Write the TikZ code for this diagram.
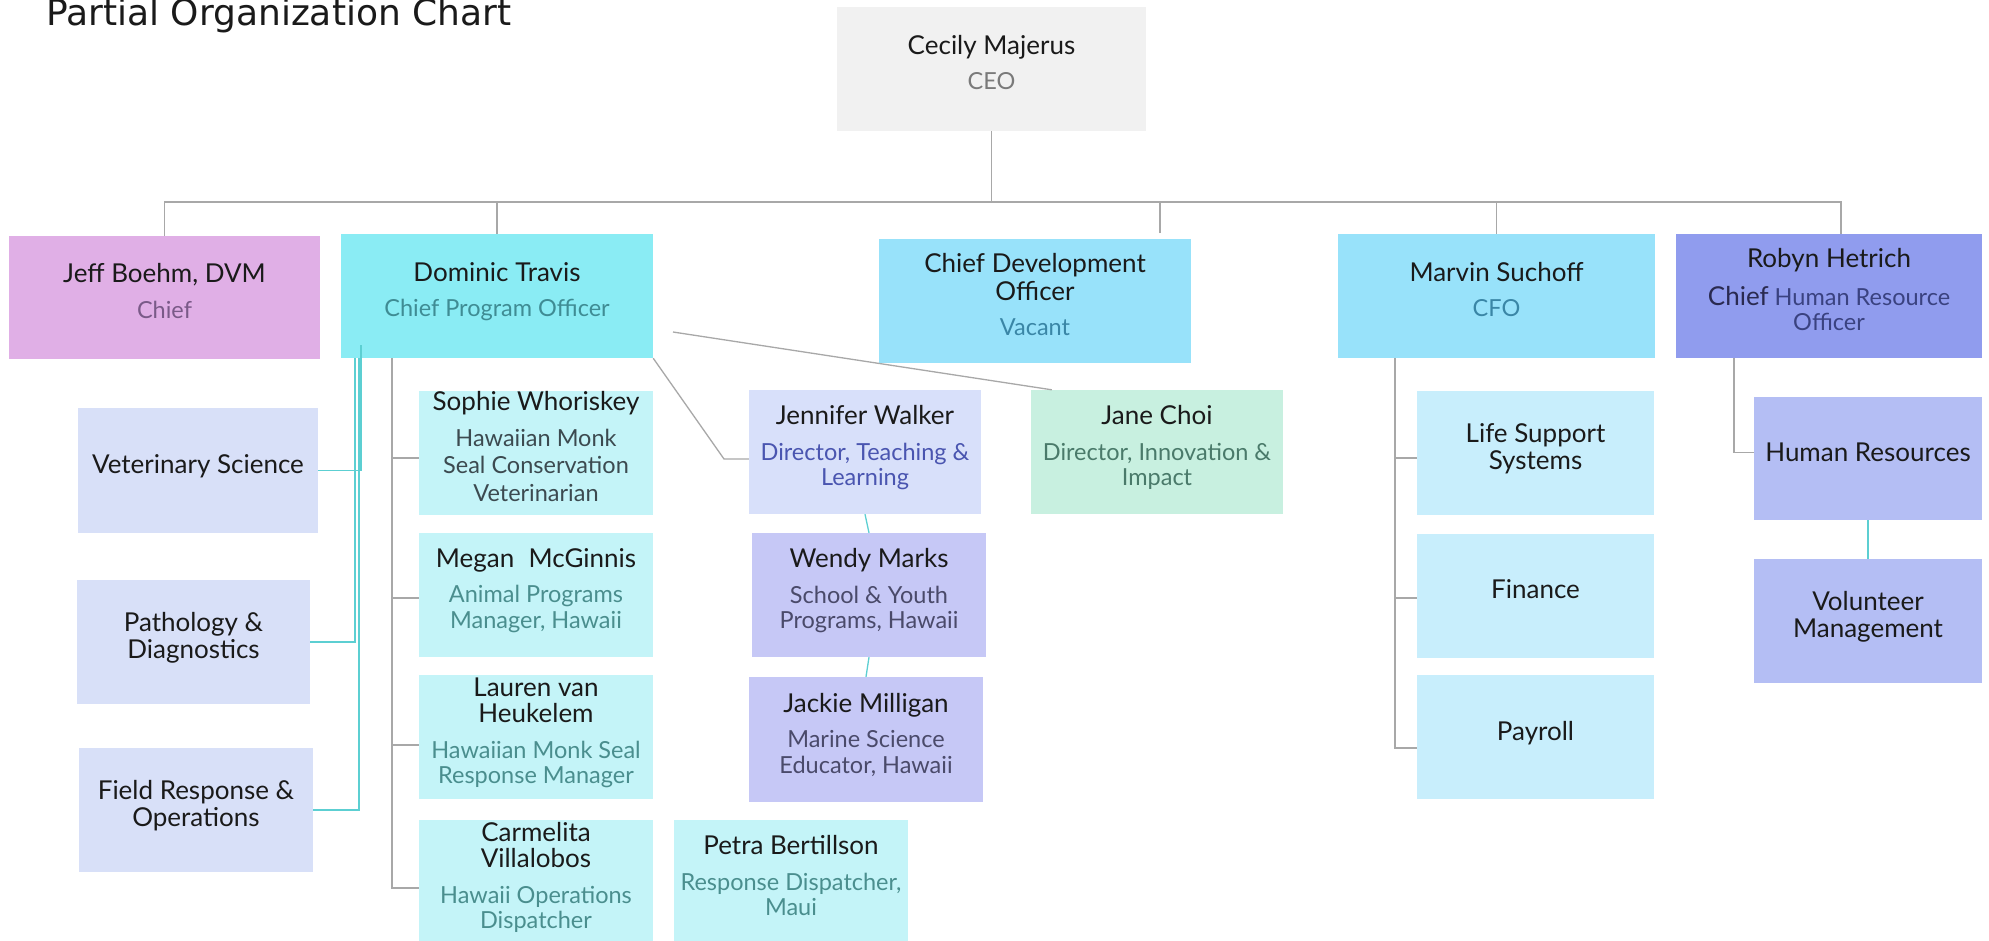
\documentclass[tikz,border=0pt]{standalone}
\usepackage{fontspec}
\setmainfont{Lato}
\newfontfamily\titlefont{DejaVu Sans}
\definecolor{nmc}{HTML}{1A1A1A}
\definecolor{lineg}{HTML}{A8A8A8}
\definecolor{linet}{HTML}{5CCFD2}
\definecolor{cceo}{HTML}{F1F1F1}
\definecolor{cjeff}{HTML}{E0AFE6}
\definecolor{cdom}{HTML}{8AECF4}
\definecolor{ccdo}{HTML}{98E2FA}
\definecolor{crob}{HTML}{909CEE}
\definecolor{cdept}{HTML}{D8E0F8}
\definecolor{cstaff}{HTML}{C4F4F8}
\definecolor{cjen}{HTML}{D8E0FA}
\definecolor{cjane}{HTML}{C8F0E0}
\definecolor{cwen}{HTML}{C6C8F6}
\definecolor{cfin}{HTML}{C8EEFC}
\definecolor{chr}{HTML}{B4BEF4}
\definecolor{sceo}{HTML}{7A7A7A}
\definecolor{sjeff}{HTML}{7A5A88}
\definecolor{sdom}{HTML}{3F8C94}
\definecolor{scdo}{HTML}{3A86A6}
\definecolor{srob}{HTML}{3A4280}
\definecolor{schief}{HTML}{2A2A50}
\definecolor{ssoph}{HTML}{3C4A50}
\definecolor{steal}{HTML}{4A8E8E}
\definecolor{sjen}{HTML}{4A55B0}
\definecolor{sjane}{HTML}{4A7A6A}
\definecolor{swen}{HTML}{4A4A6A}
\tikzset{
  bx/.style={inner sep=0pt, align=center, font=\fontsize{23.5}{25.5}\selectfont},
  lb/.style={inner sep=0pt, align=center, font=\fontsize{26}{27.5}\selectfont, text=nmc},
  gl/.style={draw=lineg, line width=1.3pt},
  tl/.style={draw=linet, line width=1.3pt},
}
\newcommand\nm[1]{{\fontsize{26}{27.5}\selectfont\color{nmc}#1}}
\newcommand\obox[7]{\node[#6, minimum width={#4-#2}, minimum height={#5-#3}] (#1) at ({(#2+#4)/2},{(#3+#5)/2}) {#7\rule[-13pt]{0pt}{0pt}};}
\begin{document}
\begin{tikzpicture}[x=1pt,y=-1pt]
\useasboundingbox (0,0) rectangle (1989,940);
\clip (0,0) rectangle (1989,940);
\fill[white] (0,0) rectangle (1989,940);
\node[anchor=base west, inner sep=0pt, text=nmc, font=\titlefont\fontsize{36}{40}\selectfont] (title) at (46,25) {Partial Organization Chart};

% top level
\obox{ceo}{837}{7}{1146}{131}{bx,fill=cceo,text=sceo}{\nm{Cecily Majerus}\\[10pt]CEO}
\obox{jeff}{9}{236}{320}{359}{bx,fill=cjeff,text=sjeff}{\nm{Jeff Boehm, DVM}\\[10pt]Chief}
\obox{dom}{341}{234}{653}{358}{bx,fill=cdom,text=sdom}{\nm{Dominic Travis}\\[10pt]Chief Program Officer}
\obox{cdo}{879}{239}{1191}{363}{bx,fill=ccdo,text=scdo}{\nm{Chief Development}\\[2pt]\nm{Officer}\\[10pt]Vacant}
\obox{marv}{1338}{234}{1655}{358}{bx,fill=ccdo,text=scdo}{\nm{Marvin Suchoff}\\[10pt]CFO}
\obox{robyn}{1676}{234}{1982}{358}{bx,fill=crob,text=srob}{\nm{Robyn Hetrich}\\[12pt]{\fontsize{26}{27.5}\selectfont\color{schief}Chief} Human Resource\\Officer}

% departments under Dominic
\obox{vet}{78}{408}{318}{533}{lb,fill=cdept}{Veterinary Science}
\obox{patho}{77}{580}{310}{704}{lb,fill=cdept}{Pathology \&\\Diagnostics}
\obox{field}{79}{748}{313}{872}{lb,fill=cdept}{Field Response \&\\Operations}

% staff under Dominic
\obox{sophie}{419}{391}{653}{515}{bx,fill=cstaff,text=ssoph}{\nm{Sophie Whoriskey}\\[10pt]Hawaiian Monk\\[2pt]Seal Conservation\\[2pt]Veterinarian}
\obox{megan}{419}{533}{653}{657}{bx,fill=cstaff,text=steal}{\nm{Megan\hspace{0.55em}McGinnis}\\[10pt]Animal Programs\\Manager, Hawaii}
\obox{lauren}{419}{675}{653}{799}{bx,fill=cstaff,text=steal}{\nm{Lauren van}\\[1pt]\nm{Heukelem}\\[10pt]Hawaiian Monk Seal\\Response Manager}
\obox{carm}{419}{820}{653}{944}{bx,fill=cstaff,text=steal}{\nm{Carmelita}\\[1pt]\nm{Villalobos}\\[10pt]Hawaii Operations\\Dispatcher}
\obox{petra}{674}{820}{908}{944}{bx,fill=cstaff,text=steal}{\nm{Petra Bertillson}\\[10pt]Response Dispatcher,\\Maui}

\obox{jen}{749}{390}{981}{514}{bx,fill=cjen,text=sjen}{\nm{Jennifer Walker}\\[10pt]Director, Teaching \&\\Learning}
\obox{jane}{1031}{390}{1283}{514}{bx,fill=cjane,text=sjane}{\nm{Jane Choi}\\[10pt]Director, Innovation \&\\Impact}
\obox{wendy}{752}{533}{986}{657}{bx,fill=cwen,text=swen}{\nm{Wendy Marks}\\[10pt]School \& Youth\\Programs, Hawaii}
\obox{jackie}{749}{677}{983}{802}{bx,fill=cwen,text=swen}{\nm{Jackie Milligan}\\[10pt]Marine Science\\Educator, Hawaii}

% finance
\obox{life}{1417}{391}{1654}{515}{lb,fill=cfin}{Life Support\\Systems}
\obox{fin}{1417}{534}{1654}{658}{lb,fill=cfin}{Finance}
\obox{pay}{1417}{675}{1654}{799}{lb,fill=cfin}{Payroll}

% HR
\obox{hr}{1754}{397}{1982}{520}{lb,fill=chr}{Human Resources}
\obox{vol}{1754}{559}{1982}{683}{lb,fill=chr}{Volunteer\\Management}

% bus
\coordinate (busJ) at (164.5,202);
\coordinate (busR) at (1841,202);
\coordinate (cdoT) at (1160,233);
\draw[gl] (jeff.north) -- (busJ) -- (busR) -- (busR |- robyn.north);
\draw[gl] (ceo.south) -- (ceo.south |- busJ);
\draw[gl] (dom.north) -- (dom.north |- busJ);
\draw[gl] (cdoT) -- (cdoT |- busJ);
\draw[gl] (marv.north) -- (marv.north |- busJ);

% Dominic teal to departments
\coordinate (dv) at (361,345);
\coordinate (dp) at (355,358);
\coordinate (df) at (359,358);
\draw[tl] (dv) |- (vet.east);
\draw[tl] (dp) |- (patho.east);
\draw[tl] (df) |- (field.east);

% Dominic gray to staff
\coordinate (dt) at (392,358);
\draw[gl] (dt) |- ([yshift=-5pt]sophie.west);
\draw[gl] (dt) |- ([yshift=-3pt]megan.west);
\draw[gl] (dt) |- ([yshift=-8pt]lauren.west);
\draw[gl] (dt) |- ([yshift=-6pt]carm.west);

% Dominic to Jennifer and Jane
\coordinate (jbend) at (724,459);
\draw[gl] (dom.south east) -- (jbend) -- (jbend -| jen.west);
\coordinate (djs) at (673,332);
\draw[gl] (djs) -- ([xshift=21pt]jane.north west);
\draw[tl] (jen.south) -- (wendy.north);
\draw[tl] (wendy.south) -- (jackie.north);

% Marvin
\coordinate (mt) at (1395,358);
\draw[gl] (mt) |- ([yshift=-5pt]life.west);
\draw[gl] (mt) |- ([yshift=-2pt]fin.west);
\draw[gl] (mt) |- ([yshift=-11pt]pay.west);

% Robyn
\coordinate (rt) at (1734,358);
\draw[gl] (rt) |- ([yshift=6pt]hr.west);
\draw[tl] (hr.south) -- (vol.north);
\end{tikzpicture}
\end{document}
